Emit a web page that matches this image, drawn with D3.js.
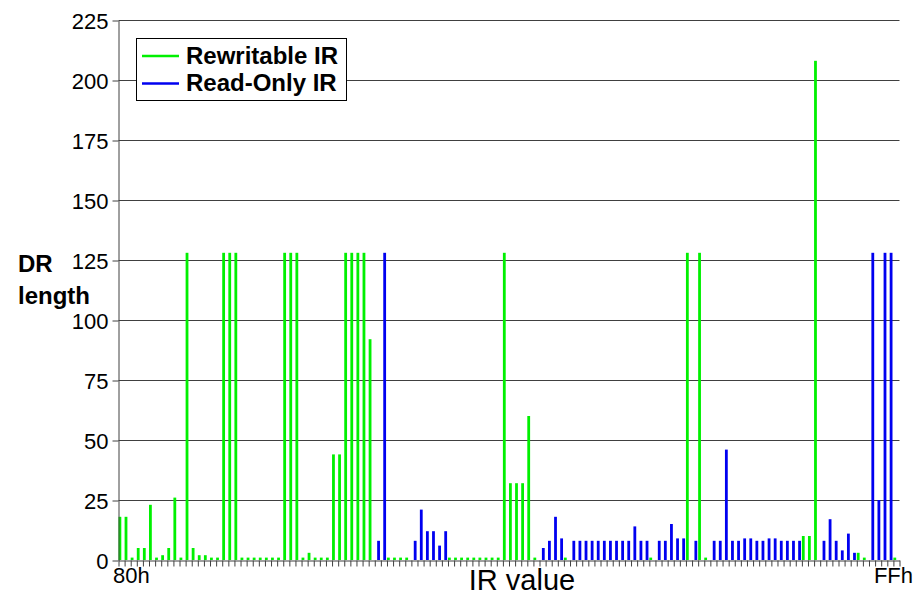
<!DOCTYPE html>
<html>
<head>
<meta charset="utf-8">
<script src="https://cdn.jsdelivr.net/npm/d3@7"></script>
<style>
  body { margin: 0; background: #fff; }
  svg { display: block; font-family: "Liberation Sans", Arial, sans-serif; }
</style>
</head>
<body>
<svg id="drChart" width="921" height="597"></svg>
<script>
// IR codes 80h..FFh, one category each
var irCodes = d3.range(0x80, 0x100);

// DR length per IR value (0 = no bar for that series)
var rewritableLen = [
  18, 18, 1, 5, 5, 23, 1, 2, 5, 26, 1, 128, 5, 2, 2, 1,
  1, 128, 128, 128, 1, 1, 1, 1, 1, 1, 1, 128, 128, 128, 1, 3,
  1, 1, 1, 44, 44, 128, 128, 128, 128, 92, 0, 0, 1, 1, 1, 1,
  0, 0, 0, 0, 0, 0, 1, 1, 1, 1, 1, 1, 1, 1, 1, 128,
  32, 32, 32, 60, 1, 0, 0, 0, 0, 1, 0, 0, 0, 0, 0, 0,
  0, 0, 0, 0, 0, 0, 0, 1, 0, 0, 0, 0, 0, 128, 0, 128,
  1, 0, 0, 0, 0, 0, 0, 0, 0, 0, 0, 0, 0, 0, 0, 0,
  10, 10, 208, 0, 0, 0, 0, 0, 0, 3, 1, 0, 0, 0, 0, 1
];
var readOnlyLen = [
  0, 0, 0, 0, 0, 0, 0, 0, 0, 0, 0, 0, 0, 0, 0, 0,
  0, 0, 0, 0, 0, 0, 0, 0, 0, 0, 0, 0, 0, 0, 0, 0,
  0, 0, 0, 0, 0, 0, 0, 0, 0, 0, 8, 128, 0, 0, 0, 0,
  8, 21, 12, 12, 6, 12, 0, 0, 0, 0, 0, 0, 0, 0, 0, 0,
  0, 0, 0, 0, 0, 5, 8, 18, 9, 0, 8, 8, 8, 8, 8, 8,
  8, 8, 8, 8, 14, 8, 8, 0, 8, 8, 15, 9, 9, 0, 8, 0,
  0, 8, 8, 46, 8, 8, 9, 9, 8, 8, 9, 9, 8, 8, 8, 8,
  0, 0, 0, 8, 17, 8, 4, 11, 3, 0, 0, 128, 25, 128, 128, 0
];

var seriesNames = ["Rewritable IR", "Read-Only IR"];
var seriesColors = ["#00f000", "#0000f0"];
var yTickValues = [0, 25, 50, 75, 100, 125, 150, 175, 200, 225];
var xEndLabels = ["80h", "FFh"];

var chartSvg, xScale, subScale, yScale, edgeScale;

document.addEventListener("DOMContentLoaded", function () {
  chartSvg = d3.select("#drChart");

  xScale = d3.scaleBand().domain(irCodes).range([118.5, 899.5]);
  subScale = d3.scaleBand().domain(seriesNames).range([0, 4.8]);
  yScale = d3.scaleLinear().domain([0, 225]).range([560, 20]);
  // category boundaries, for the little ticks under the axis
  edgeScale = d3.scaleLinear().domain([0, irCodes.length]).range([118.5, 899.5]);

  drawGrid();
  drawBars();
  drawAxes();
  drawLegend();
});

function drawGrid() {
  chartSvg.append("g")
    .attr("class", "grid")
    .selectAll("line")
    .data(yTickValues.slice(1))
    .enter()
    .append("line")
    .attr("x1", 118.5)
    .attr("x2", 899.5)
    .attr("y1", d => yScale(d) + 0.5)
    .attr("y2", d => yScale(d) + 0.5)
    .attr("stroke", "#404040")
    .attr("stroke-width", 1);
}

function drawBars() {
  var seriesData = [rewritableLen, readOnlyLen];

  seriesData.forEach((values, s) => {
    var name = seriesNames[s];
    var bars = values
      .map((v, i) => ({ code: irCodes[i], value: v }))
      .filter(d => d.value > 0);

    chartSvg.append("g")
      .attr("class", "bars-" + s)
      .selectAll("rect")
      .data(bars)
      .enter()
      .append("rect")
      .attr("x", d => xScale(d.code) + subScale(name))
      .attr("width", subScale.bandwidth() + 0.4)
      .attr("y", d => yScale(d.value))
      .attr("height", d => yScale(0) - yScale(d.value))
      .attr("fill", seriesColors[s]);
  });
}

function drawAxes() {
  var yAxis = chartSvg.append("g")
    .attr("transform", "translate(118.5,0.5)")
    .call(d3.axisLeft(yScale).tickValues(yTickValues).tickSize(6).tickSizeOuter(0).tickPadding(4));
  yAxis.select(".domain").attr("stroke", "#404040");
  yAxis.selectAll(".tick line").attr("stroke", "#404040");
  yAxis.selectAll(".tick text")
    .attr("font-family", "Liberation Sans, Arial, sans-serif")
    .attr("font-size", 22)
    .attr("fill", "#000")
    .attr("dy", "0.36em");

  var xAxis = chartSvg.append("g")
    .attr("transform", "translate(0,560.5)")
    .call(d3.axisBottom(edgeScale).tickValues(d3.range(irCodes.length + 1)).tickFormat("").tickSize(6).tickSizeOuter(0));
  xAxis.select(".domain").attr("stroke", "#404040");
  xAxis.selectAll(".tick line").attr("stroke", "#404040");

  chartSvg.append("text")
    .attr("x", 113)
    .attr("y", 583)
    .attr("font-size", 22)
    .text(xEndLabels[0]);

  chartSvg.append("text")
    .attr("x", 913)
    .attr("y", 583)
    .attr("text-anchor", "end")
    .attr("font-size", 22)
    .text(xEndLabels[1]);

  chartSvg.append("text")
    .attr("x", 522)
    .attr("y", 590)
    .attr("text-anchor", "middle")
    .attr("font-size", 29)
    .text("IR value");

  var yTitle = chartSvg.append("text")
    .attr("font-size", 24)
    .attr("font-weight", "bold");
  yTitle.append("tspan").attr("x", 18).attr("y", 272).text("DR");
  yTitle.append("tspan").attr("x", 18).attr("y", 304).text("length");
}

function drawLegend() {
  var legend = chartSvg.append("g").attr("class", "legend");

  legend.append("rect")
    .attr("x", 136.5)
    .attr("y", 38.5)
    .attr("width", 210)
    .attr("height", 62)
    .attr("fill", "#fff")
    .attr("stroke", "#000")
    .attr("stroke-width", 1);

  var rows = legend.selectAll("g.item")
    .data(seriesNames)
    .enter()
    .append("g")
    .attr("class", "item")
    .attr("transform", (d, i) => "translate(0," + (i * 27.5) + ")");

  rows.append("line")
    .attr("x1", 142)
    .attr("x2", 179)
    .attr("y1", 56)
    .attr("y2", 56)
    .attr("stroke", (d, i) => seriesColors[i])
    .attr("stroke-width", 2.5);

  rows.append("text")
    .attr("x", 186)
    .attr("y", 63.5)
    .attr("font-size", 24)
    .attr("font-weight", "bold")
    .text(d => d);
}
</script>
</body>
</html>
